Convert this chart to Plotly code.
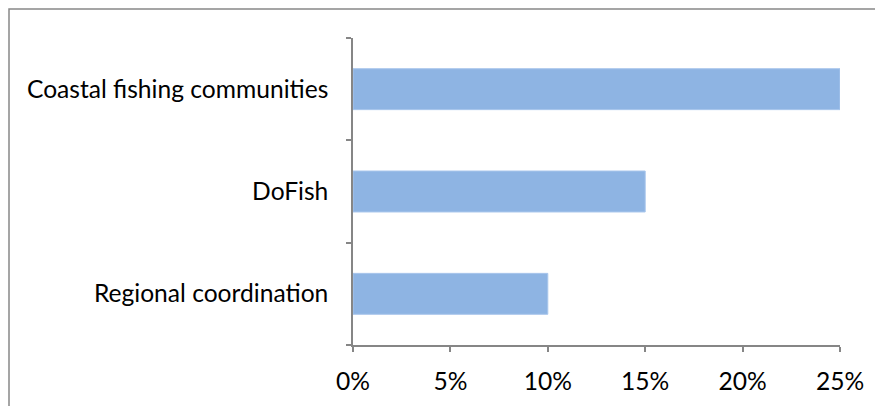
import plotly.graph_objects as go

categories = ["Coastal fishing communities", "DoFish", "Regional coordination"]
values = [0.25, 0.15, 0.10]
tick_vals = [0, 0.05, 0.10, 0.15, 0.20, 0.25]

W, H = 883, 406
L, R, T, B = 345, 51, 30, 69
pw, ph = W - L - R, H - T - B

fig = go.Figure(go.Bar(
    y=categories, x=values, orientation="h", width=0.4,
    marker=dict(color="#8EB4E3", line=dict(color="#A9C6EC", width=1)),
))

axis_col = "#868686"
font = dict(family="Lato, Open Sans, sans-serif", size=24.6, color="#000000")

fig.update_layout(
    width=W, height=H, margin=dict(l=L, r=R, t=T, b=B),
    paper_bgcolor="white", plot_bgcolor="white",
    showlegend=False, font=font,
    xaxis=dict(range=[0, 0.25], tickvals=tick_vals, tickformat=".0%",
               showgrid=False, zeroline=False, showline=True, linecolor=axis_col,
               linewidth=1.5, ticks="outside", ticklen=5, tickcolor=axis_col,
               tickwidth=1.5, ticklabelstandoff=9, fixedrange=True),
    yaxis=dict(categoryorder="array", categoryarray=categories[::-1],
               showgrid=False, zeroline=False, showline=True, linecolor=axis_col,
               linewidth=1.5, ticks="outside", ticklen=5, tickcolor=axis_col,
               tickwidth=1.5, tickson="boundaries", ticklabelstandoff=18,
               fixedrange=True),
    shapes=[dict(type="rect", xref="paper", yref="paper",
                 x0=(1 - L) / pw, x1=(W + 5 - L) / pw,
                 y0=(H - B - (H + 5)) / ph, y1=(H - B - 1) / ph,
                 line=dict(color="#888888", width=1.5), fillcolor="rgba(0,0,0,0)",
                 layer="below")],
)

fig.write_html("out.html")
